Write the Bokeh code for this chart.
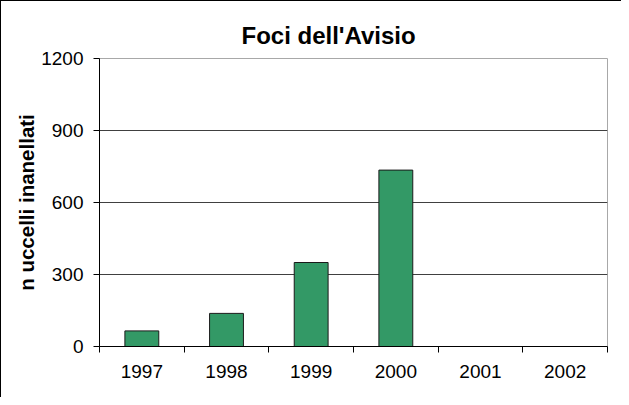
from bokeh.plotting import figure
from bokeh.models import FixedTicker, Title
from bokeh.embed import file_html
from bokeh.resources import INLINE

years = ["1997", "1998", "1999", "2000", "2001", "2002"]
birds = [65, 138, 350, 735, 0, 0]
y_ticks = [0, 300, 600, 900, 1200]

FONT = "Liberation Sans"

centers = [i + 0.5 for i in range(len(years))]
bounds = list(range(len(years) + 1))

p = figure(width=621, height=397, output_backend="svg", toolbar_location=None,
           x_range=(0, len(years)), y_range=(0, 1200),
           min_border_left=98, min_border_right=15, min_border_top=57, min_border_bottom=52,
           background_fill_color="white", border_fill_color="white",
           outline_line_color="#a8a8a8")
p.styles = {"border-left": "1px solid black", "border-top": "1px solid black"}

t = Title(text="Foci dell'Avisio", align="left", offset=142, standoff=19,
          text_font=FONT, text_font_size="24px", text_font_style="bold", text_color="black")
p.add_layout(t, "above")

p.vbar(x=centers, top=birds, width=0.4, bottom=0,
       fill_color="#339966", line_color="#1a1a1a", line_width=1)

# x axis
p.xaxis.ticker = FixedTicker(ticks=centers, minor_ticks=bounds)
p.xaxis.major_label_overrides = {c: y for c, y in zip(centers, years)}
p.xaxis.major_tick_out = 0
p.xaxis.major_tick_in = 0
p.xaxis.minor_tick_out = 6
p.xaxis.minor_tick_in = 0
p.xaxis.minor_tick_line_color = "black"
p.xaxis.major_label_standoff = 12
p.xaxis.axis_line_color = "black"

# y axis
p.yaxis.ticker = FixedTicker(ticks=y_ticks)
p.yaxis.major_tick_out = 6
p.yaxis.major_tick_in = 0
p.yaxis.minor_tick_line_color = None
p.yaxis.major_label_standoff = 10
p.yaxis.axis_line_color = "black"
p.yaxis.major_tick_line_color = "black"
p.yaxis.axis_label = "n uccelli inanellati"
p.yaxis.axis_label_text_font = FONT
p.yaxis.axis_label_text_font_size = "20.5px"
p.yaxis.axis_label_text_font_style = "bold"
p.yaxis.axis_label_text_color = "black"
p.yaxis.axis_label_standoff = 0

for ax in (p.xaxis, p.yaxis):
    ax.major_label_text_font = FONT
    ax.major_label_text_font_size = "19px"
    ax.major_label_text_color = "black"

p.xgrid.grid_line_color = None
p.ygrid.grid_line_color = "#404040"
p.ygrid.grid_line_width = 1

open("out.html", "w").write(file_html(p, INLINE))
